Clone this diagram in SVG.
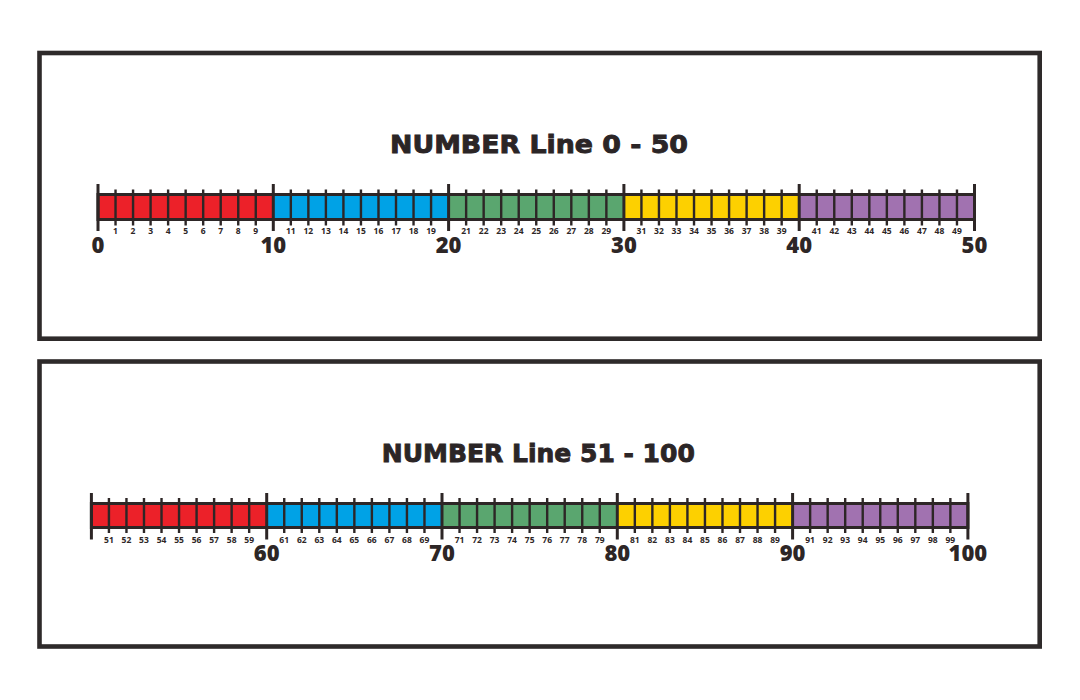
<svg xmlns="http://www.w3.org/2000/svg" width="1080" height="700" viewBox="0 0 1080 700">
<style>
.frame{fill:#fff;stroke:#2e2a2a;stroke-width:4.6}
.title{font-family:"DejaVu Sans",sans-serif;font-weight:bold;font-size:25px;fill:#2b2526;stroke:#2b2526;stroke-width:0.9;text-anchor:middle}
.outline{fill:none;stroke:#2d2626;stroke-width:3}
.minor{fill:none;stroke:#2d2626;stroke-width:2.4}
.major{fill:none;stroke:#2d2626;stroke-width:3}
.sm{font-family:"Open Sans",sans-serif;font-weight:bold;font-size:8.5px;fill:#2d2626;text-anchor:middle}
.lg{font-family:"Open Sans",sans-serif;font-weight:800;font-size:22px;fill:#2d2626;text-anchor:middle}
.red{fill:#ec2129}.blue{fill:#00a2e6}.green{fill:#5aa66f}.yellow{fill:#fdd000}.purple{fill:#a172b0}
</style>
<rect width="1080" height="700" fill="#fff"/>
<g id="line1">
<rect class="frame" x="39.5" y="53" width="1000.2" height="285.7"/>
<text class="title" x="539" y="153.3" textLength="298" lengthAdjust="spacingAndGlyphs">NUMBER Line 0 - 50</text>
<rect class="red" x="98" y="194.5" width="175.3" height="25"/>
<rect class="blue" x="273.3" y="194.5" width="175.3" height="25"/>
<rect class="green" x="448.6" y="194.5" width="175.3" height="25"/>
<rect class="yellow" x="623.9" y="194.5" width="175.3" height="25"/>
<rect class="purple" x="799.2" y="194.5" width="175.3" height="25"/>
<rect class="outline" x="98" y="194.5" width="876.5" height="25"/>
<path class="minor" d="M115.53 189.5V225.5M133.06 189.5V225.5M150.59 189.5V225.5M168.12 189.5V225.5M185.65 189.5V225.5M203.18 189.5V225.5M220.71 189.5V225.5M238.24 189.5V225.5M255.77 189.5V225.5M290.83 189.5V225.5M308.36 189.5V225.5M325.89 189.5V225.5M343.42 189.5V225.5M360.95 189.5V225.5M378.48 189.5V225.5M396.01 189.5V225.5M413.54 189.5V225.5M431.07 189.5V225.5M466.13 189.5V225.5M483.66 189.5V225.5M501.19 189.5V225.5M518.72 189.5V225.5M536.25 189.5V225.5M553.78 189.5V225.5M571.31 189.5V225.5M588.84 189.5V225.5M606.37 189.5V225.5M641.43 189.5V225.5M658.96 189.5V225.5M676.49 189.5V225.5M694.02 189.5V225.5M711.55 189.5V225.5M729.08 189.5V225.5M746.61 189.5V225.5M764.14 189.5V225.5M781.67 189.5V225.5M816.73 189.5V225.5M834.26 189.5V225.5M851.79 189.5V225.5M869.32 189.5V225.5M886.85 189.5V225.5M904.38 189.5V225.5M921.91 189.5V225.5M939.44 189.5V225.5M956.97 189.5V225.5"/>
<path class="major" d="M98 184V231M273.3 184V231M448.6 184V231M623.9 184V231M799.2 184V231M974.5 184V231"/>
<g class="sm">
<text x="115.53" y="234">1</text><text x="133.06" y="234">2</text><text x="150.59" y="234">3</text><text x="168.12" y="234">4</text><text x="185.65" y="234">5</text><text x="203.18" y="234">6</text><text x="220.71" y="234">7</text><text x="238.24" y="234">8</text><text x="255.77" y="234">9</text>
<text x="290.83" y="234">11</text><text x="308.36" y="234">12</text><text x="325.89" y="234">13</text><text x="343.42" y="234">14</text><text x="360.95" y="234">15</text><text x="378.48" y="234">16</text><text x="396.01" y="234">17</text><text x="413.54" y="234">18</text><text x="431.07" y="234">19</text>
<text x="466.13" y="234">21</text><text x="483.66" y="234">22</text><text x="501.19" y="234">23</text><text x="518.72" y="234">24</text><text x="536.25" y="234">25</text><text x="553.78" y="234">26</text><text x="571.31" y="234">27</text><text x="588.84" y="234">28</text><text x="606.37" y="234">29</text>
<text x="641.43" y="234">31</text><text x="658.96" y="234">32</text><text x="676.49" y="234">33</text><text x="694.02" y="234">34</text><text x="711.55" y="234">35</text><text x="729.08" y="234">36</text><text x="746.61" y="234">37</text><text x="764.14" y="234">38</text><text x="781.67" y="234">39</text>
<text x="816.73" y="234">41</text><text x="834.26" y="234">42</text><text x="851.79" y="234">43</text><text x="869.32" y="234">44</text><text x="886.85" y="234">45</text><text x="904.38" y="234">46</text><text x="921.91" y="234">47</text><text x="939.44" y="234">48</text><text x="956.97" y="234">49</text>
</g>
<g class="lg">
<text x="98" y="252.5">0</text><text x="273.3" y="252.5">10</text><text x="448.6" y="252.5">20</text><text x="623.9" y="252.5">30</text><text x="799.2" y="252.5">40</text><text x="974.5" y="252.5">50</text>
</g>
</g>
<g id="line2">
<rect class="frame" x="39.5" y="361.5" width="1000.2" height="285"/>
<text class="title" x="538.3" y="461.7" textLength="313" lengthAdjust="spacingAndGlyphs">NUMBER Line 51 - 100</text>
<rect class="red" x="91.4" y="503.5" width="175.3" height="24"/>
<rect class="blue" x="266.7" y="503.5" width="175.3" height="24"/>
<rect class="green" x="442" y="503.5" width="175.3" height="24"/>
<rect class="yellow" x="617.3" y="503.5" width="175.3" height="24"/>
<rect class="purple" x="792.6" y="503.5" width="175.3" height="24"/>
<rect class="outline" x="91.4" y="503.5" width="876.5" height="24"/>
<path class="minor" d="M108.93 498V533M126.46 498V533M143.99 498V533M161.52 498V533M179.05 498V533M196.58 498V533M214.11 498V533M231.64 498V533M249.17 498V533M284.23 498V533M301.76 498V533M319.29 498V533M336.82 498V533M354.35 498V533M371.88 498V533M389.41 498V533M406.94 498V533M424.47 498V533M459.53 498V533M477.06 498V533M494.59 498V533M512.12 498V533M529.65 498V533M547.18 498V533M564.71 498V533M582.24 498V533M599.77 498V533M634.83 498V533M652.36 498V533M669.89 498V533M687.42 498V533M704.95 498V533M722.48 498V533M740.01 498V533M757.54 498V533M775.07 498V533M810.13 498V533M827.66 498V533M845.19 498V533M862.72 498V533M880.25 498V533M897.78 498V533M915.31 498V533M932.84 498V533M950.37 498V533"/>
<path class="major" d="M91.4 493V539.5M266.7 493V539.5M442 493V539.5M617.3 493V539.5M792.6 493V539.5M967.9 493V539.5"/>
<g class="sm">
<text x="108.93" y="542.5">51</text><text x="126.46" y="542.5">52</text><text x="143.99" y="542.5">53</text><text x="161.52" y="542.5">54</text><text x="179.05" y="542.5">55</text><text x="196.58" y="542.5">56</text><text x="214.11" y="542.5">57</text><text x="231.64" y="542.5">58</text><text x="249.17" y="542.5">59</text>
<text x="284.23" y="542.5">61</text><text x="301.76" y="542.5">62</text><text x="319.29" y="542.5">63</text><text x="336.82" y="542.5">64</text><text x="354.35" y="542.5">65</text><text x="371.88" y="542.5">66</text><text x="389.41" y="542.5">67</text><text x="406.94" y="542.5">68</text><text x="424.47" y="542.5">69</text>
<text x="459.53" y="542.5">71</text><text x="477.06" y="542.5">72</text><text x="494.59" y="542.5">73</text><text x="512.12" y="542.5">74</text><text x="529.65" y="542.5">75</text><text x="547.18" y="542.5">76</text><text x="564.71" y="542.5">77</text><text x="582.24" y="542.5">78</text><text x="599.77" y="542.5">79</text>
<text x="634.83" y="542.5">81</text><text x="652.36" y="542.5">82</text><text x="669.89" y="542.5">83</text><text x="687.42" y="542.5">84</text><text x="704.95" y="542.5">85</text><text x="722.48" y="542.5">86</text><text x="740.01" y="542.5">87</text><text x="757.54" y="542.5">88</text><text x="775.07" y="542.5">89</text>
<text x="810.13" y="542.5">91</text><text x="827.66" y="542.5">92</text><text x="845.19" y="542.5">93</text><text x="862.72" y="542.5">94</text><text x="880.25" y="542.5">95</text><text x="897.78" y="542.5">96</text><text x="915.31" y="542.5">97</text><text x="932.84" y="542.5">98</text><text x="950.37" y="542.5">99</text>
</g>
<g class="lg">
<text x="266.7" y="561">60</text><text x="442" y="561">70</text><text x="617.3" y="561">80</text><text x="792.6" y="561">90</text><text x="967.9" y="561">100</text>
</g>
</g>
</svg>
